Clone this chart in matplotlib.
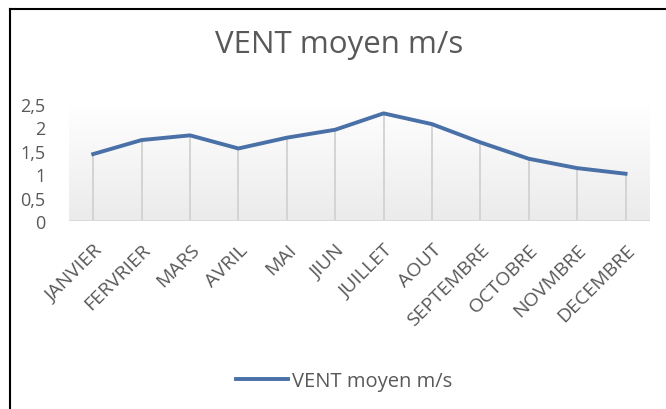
import numpy as np
import matplotlib
matplotlib.use("Agg")
import matplotlib.pyplot as plt
from matplotlib.lines import Line2D

months = ["JANVIER", "FERVRIER", "MARS", "AVRIL", "MAI", "JIUN", "JUILLET",
          "AOUT", "SEPTEMBRE", "OCTOBRE", "NOVMBRE", "DECEMBRE"]
vent = [1.43, 1.73, 1.83, 1.55, 1.78, 1.95, 2.3, 2.07, 1.68, 1.33, 1.13, 1.01]
yticks = [0, 0.5, 1, 1.5, 2, 2.5]
ytick_labels = ["0", "0,5", "1", "1,5", "2", "2,5"]

plt.rcParams["font.family"] = ["Open Sans", "DejaVu Sans"]
text_col = "#595959"
line_col = "#4a70a8"

fig = plt.figure(figsize=(6.66, 4.10), dpi=100)
ax = fig.add_axes([0.1036, 0.4585, 0.872, 0.2854])

x = np.arange(len(months))

# light gradient back wall
grad = np.linspace(0, 1, 100).reshape(-1, 1)
ax.imshow(grad, extent=[-0.5, len(months) - 0.5, 0, 2.5], aspect="auto",
          cmap=matplotlib.colors.LinearSegmentedColormap.from_list(
              "wall", ["#ebebeb", "#ffffff"]), origin="lower", zorder=0)

# drop lines
ax.vlines(x, 0, vent, colors="#d4d4d4", lw=1.4, zorder=1)
ax.axhline(0, color="#d9d9d9", lw=2, zorder=1)

ax.plot(x, vent, color=line_col, lw=2.8, label="VENT moyen m/s",
        solid_joinstyle="round", zorder=3)

ax.set_xlim(-0.5, len(months) - 0.5)
ax.set_ylim(0, 2.5)
ax.set_yticks(yticks)
ax.set_yticklabels(ytick_labels)
ax.set_xticks(x)
ax.set_xticklabels(months, rotation=45, ha="right", rotation_mode="anchor")
ax.tick_params(axis="y", length=0, pad=17, labelsize=13, labelcolor=text_col)
ax.tick_params(axis="x", length=0, pad=14, labelsize=14, labelcolor=text_col)
for s in ax.spines.values():
    s.set_visible(False)

fig.text(0.509, 0.89, "VENT moyen m/s", ha="center", va="center",
         fontsize=22.5, color=text_col)

ax.legend(loc="center", bbox_to_anchor=(0.474, -1.37), frameon=False,
          fontsize=14.5, labelcolor=text_col, handlelength=2.6, handletextpad=0.2)

# frame lines (top and left)
fig.add_artist(Line2D([10 / 666, 1], [1 - 10 / 410] * 2, color="black", lw=1.5,
                      transform=fig.transFigure))
fig.add_artist(Line2D([10 / 666] * 2, [0, 1 - 10 / 410], color="black", lw=1.5,
                      transform=fig.transFigure))

fig.savefig("out.png", dpi=100)
